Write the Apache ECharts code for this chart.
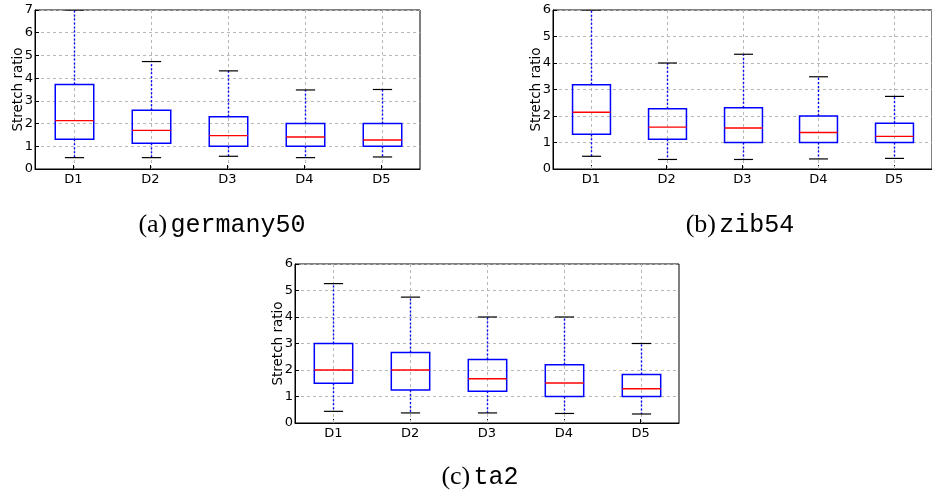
<!DOCTYPE html>
<html>
<head>
<meta charset="utf-8">
<script src="https://cdn.jsdelivr.net/npm/echarts@6/dist/echarts.min.js"></script>
<style>html,body{margin:0;padding:0;background:#fff;}#c{width:932px;height:495px;}</style>
</head>
<body>
<div id="c"></div>
<script>
// Categories (demand sets)
const categories = ['D1', 'D2', 'D3', 'D4', 'D5'];
// Box statistics per category: [lower whisker, Q1, median, Q3, upper whisker]
const germany50 = [
  [0.5, 1.31, 2.13, 3.72, 7.0],
  [0.5, 1.13, 1.70, 2.59, 4.73],
  [0.56, 1.0, 1.47, 2.30, 4.32],
  [0.5, 1.0, 1.41, 2.0, 3.48],
  [0.53, 1.0, 1.28, 2.0, 3.5]
];
const zib54 = [
  [0.48, 1.31, 2.14, 3.18, 6.0],
  [0.36, 1.12, 1.58, 2.27, 4.0],
  [0.36, 1.0, 1.55, 2.31, 4.33],
  [0.38, 1.0, 1.38, 2.0, 3.48],
  [0.40, 1.0, 1.23, 1.73, 2.74]
];
const ta2 = [
  [0.44, 1.5, 2.0, 3.0, 5.26],
  [0.38, 1.25, 2.0, 2.66, 4.75],
  [0.38, 1.2, 1.67, 2.40, 4.0],
  [0.36, 1.0, 1.51, 2.2, 4.0],
  [0.34, 1.0, 1.29, 1.83, 3.0]
];
const yTicksA = [0, 1, 2, 3, 4, 5, 6, 7];
const yTicksB = [0, 1, 2, 3, 4, 5, 6];
const yTicksC = [0, 1, 2, 3, 4, 5, 6];
const captions = [
  {label: '(a)', name: 'germany50'},
  {label: '(b)', name: 'zib54'},
  {label: '(c)', name: 'ta2'}
];

const chart = echarts.init(document.getElementById('c'), null, {renderer: 'canvas'});

const grids = [
  {left: 35, top: 10, width: 385, height: 159},
  {left: 553, top: 10, width: 385, height: 159},
  {left: 295, top: 264, width: 384, height: 159}
];
const panels = [germany50, zib54, ta2];
const yTicks = [yTicksA, yTicksB, yTicksC];

const gridLineStyle = {color: '#b8b8b8', type: [3, 3], width: 1};

function renderBox(params, api) {
  const idx = api.value(0);
  const lo = api.coord([idx, api.value(1)]);
  const q1 = api.coord([idx, api.value(2)]);
  const med = api.coord([idx, api.value(3)]);
  const q3 = api.coord([idx, api.value(4)]);
  const hi = api.coord([idx, api.value(5)]);
  const band = api.size([1, 0])[0];
  const bw = band * 0.5;
  const cw = bw / 2;
  const cx = Math.round(lo[0]) + 0.5;
  const cs = params.coordSys;
  const blue = '#0000ff';
  return {
    type: 'group',
    children: [
      {type: 'line', shape: {x1: cx, y1: cs.y, x2: cx, y2: cs.y + cs.height}, style: {stroke: '#b8b8b8', lineWidth: 1, lineDash: [3, 3]}},
      {type: 'line', shape: {x1: cx, y1: q3[1], x2: cx, y2: hi[1]}, style: {stroke: blue, lineWidth: 1.4, lineDash: [2, 2]}},
      {type: 'line', shape: {x1: cx, y1: q1[1], x2: cx, y2: lo[1]}, style: {stroke: blue, lineWidth: 1.4, lineDash: [2, 2]}},
      {type: 'line', shape: {x1: cx - cw / 2, y1: hi[1], x2: cx + cw / 2, y2: hi[1]}, style: {stroke: '#000', lineWidth: 1.2}},
      {type: 'line', shape: {x1: cx - cw / 2, y1: lo[1], x2: cx + cw / 2, y2: lo[1]}, style: {stroke: '#000', lineWidth: 1.2}},
      {type: 'rect', shape: {x: cx - bw / 2, y: q3[1], width: bw, height: q1[1] - q3[1]}, style: {fill: 'none', stroke: blue, lineWidth: 1.5}},
      {type: 'line', shape: {x1: cx - bw / 2, y1: med[1], x2: cx + bw / 2, y2: med[1]}, style: {stroke: '#ff0000', lineWidth: 1.4}}
    ]
  };
}

const xAxes = grids.map((g, i) => ({
  type: 'category', gridIndex: i, data: categories, boundaryGap: true,
  axisLine: {show: true, lineStyle: {color: '#000', width: 1}},
  axisTick: {show: true, inside: true, length: 4, alignWithLabel: true, lineStyle: {color: '#000'}},
  axisLabel: {color: '#000', fontSize: 13, fontFamily: 'DejaVu Sans', margin: 4},
  splitLine: {show: false}
}));
const yAxes = grids.map((g, i) => {
  const t = yTicks[i];
  return {
    type: 'value', gridIndex: i, min: t[0], max: t[t.length - 1], interval: t[1] - t[0],
    name: 'Stretch ratio', nameLocation: 'middle', nameGap: 10, nameRotate: 90,
    nameMoveOverlap: false,
    nameTextStyle: {color: '#000', fontSize: 13.5, fontFamily: 'DejaVu Sans'},
    axisLine: {show: true, lineStyle: {color: '#000', width: 1}},
    axisTick: {show: true, inside: true, length: 4, lineStyle: {color: '#000'}},
    axisLabel: {color: '#000', fontSize: 13, fontFamily: 'DejaVu Sans', margin: 2},
    splitLine: {show: true, lineStyle: gridLineStyle}
  };
});

const series = panels.map((p, i) => ({
  type: 'custom', xAxisIndex: i, yAxisIndex: i,
  renderItem: renderBox,
  encode: {x: 0, y: [1, 2, 3, 4, 5]},
  clip: true,
  data: p.map((r, k) => [k].concat(r))
}));

const capPos = [[222, 225], [740, 225], [480, 477]];
const graphic = captions.map((c, i) => ({
  type: 'text', x: capPos[i][0], y: capPos[i][1],
  style: {
    text: '{s|' + c.label + '} {m|' + c.name + '}',
    align: 'center', verticalAlign: 'middle',
    rich: {
      s: {fontFamily: 'Liberation Serif', fontSize: 26, fill: '#000'},
      m: {fontFamily: 'Liberation Mono', fontSize: 25, fill: '#000'}
    }
  }
}));

chart.setOption({
  animation: false,
  backgroundColor: '#fff',
  grid: grids.map(g => Object.assign({show: true, borderColor: '#000', borderWidth: 1, backgroundColor: 'transparent'}, g)),
  xAxis: xAxes,
  yAxis: yAxes,
  series: series,
  graphic: graphic
});
</script>
</body>
</html>
